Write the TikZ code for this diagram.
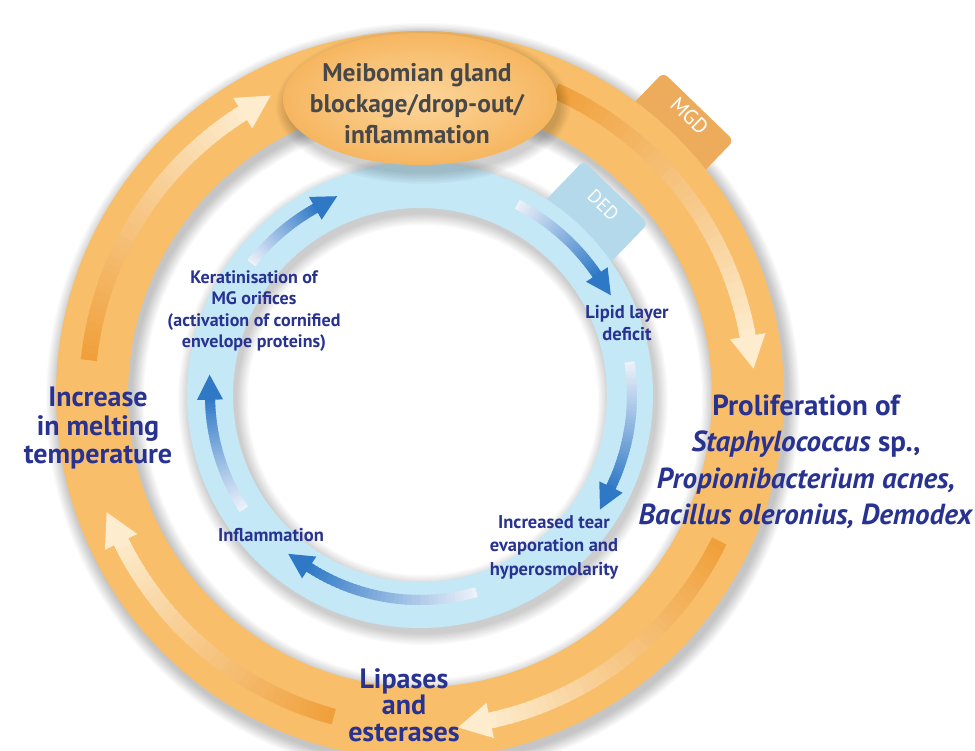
\documentclass[tikz,border=0pt]{standalone}
\usepackage{fontspec}
\setmainfont{PT Sans}
\usetikzlibrary{shapes.geometric}
\definecolor{ringorange}{RGB}{248,190,106}
\definecolor{darkorange}{RGB}{240,160,58}
\definecolor{creamorange}{RGB}{253,236,206}
\definecolor{taborange}{RGB}{236,172,92}
\definecolor{ringblue}{RGB}{196,232,246}
\definecolor{tabblue}{RGB}{180,217,235}
\definecolor{arrowblue}{RGB}{46,120,198}
\definecolor{paleblue}{RGB}{236,241,250}
\definecolor{labelblue}{RGB}{40,50,145}
\definecolor{glandgrey}{RGB}{72,72,72}
\tikzset{
  big label/.style = {text=labelblue, align=center, font=\bfseries\fontsize{28}{28.5}\selectfont},
  small label/.style = {text=labelblue, align=center, font=\bfseries\fontsize{18.5}{22}\selectfont},
  tabtext/.style = {text=white, font=\fontsize{21}{22}\selectfont, inner sep=0pt}
}
% arc with colour running from tail to head, and a head at the end
% #1 radius, #2 from, #3 to, #4 tail colour, #5 head colour, #6 shaft, #7 head width, #8 head length
\newcommand{\flowarc}[8]{%
  \foreach \k in {0,...,39}{%
    \pgfmathsetmacro{\angA}{#2+(#3-(#2))*\k/40}%
    \pgfmathsetmacro{\angB}{#2+(#3-(#2))*(\k+1.6)/40}%
    \pgfmathtruncatemacro{\mix}{100-2.5*\k}%
    \draw[line width=#6, #4!\mix!#5] (\angA:#1) arc[start angle=\angA, end angle=\angB, radius=#1];%
  }%
  \begin{scope}[shift={(#3:#1)}, rotate=#3-90]
    \fill[#5] (-1,#7/2) -- (#8,0) -- (-1,-#7/2) -- cycle;
  \end{scope}%
}

\begin{document}
\begin{tikzpicture}[x=1pt, y=1pt]
  \fill[white] (-420,-355) rectangle (555,395);
  \useasboundingbox (-420,-355) rectangle (555,395);

  % soft shadows
  \foreach \s in {1,...,10}{
    \draw[black, opacity=0.025, line width=72+2.6*\s] (3,-5) circle[radius=328];
    \draw[black, opacity=0.02, line width=46+2.4*\s] (3,-5) circle[radius=210];
  }

  % MGD ring
  \begin{scope}[shift={(46:378)}, rotate=-44]
    \fill[taborange, rounded corners=6] (-49,-23) rectangle (49,23);
  \end{scope}
  \node[tabtext, rotate=-44] (mgd) at (46:388) {MGD};
  \draw[ringorange, line width=72] (0,0) circle[radius=328];
  \flowarc{333}{174}{122}{darkorange}{creamorange}{16}{36}{32}
  \flowarc{333}{66}{10}{darkorange}{creamorange}{16}{36}{32}
  \flowarc{333}{-26}{-78}{darkorange}{creamorange}{16}{36}{32}
  \flowarc{333}{255}{206}{darkorange}{creamorange}{16}{36}{32}

  % DED ring
  \begin{scope}[shift={(46:252)}, rotate=-44]
    \fill[tabblue, rounded corners=6] (-45,-30) rectangle (45,30);
  \end{scope}
  \node[tabtext, rotate=-44, font=\fontsize{19}{20}\selectfont] (ded) at (46:264) {DED};
  \draw[ringblue, line width=46] (0,0) circle[radius=210];
  \flowarc{214}{142}{119}{paleblue}{arrowblue}{10}{26}{24}
  \flowarc{214}{63}{34}{paleblue}{arrowblue}{10}{26}{24}
  \flowarc{212}{9}{-26}{paleblue}{arrowblue}{10}{26}{24}
  \flowarc{205}{-74}{-123}{paleblue}{arrowblue}{10}{26}{24}
  \flowarc{210}{213}{181}{paleblue}{arrowblue}{10}{26}{24}

  % gland
  \foreach \s in {1,...,8}
    \fill[black, opacity=0.025] (3,289) ellipse[x radius=135+1.5*\s, y radius=66+1.5*\s];
  \node[ellipse, minimum width=274pt, minimum height=132pt, inner sep=0pt,
        inner color={rgb,255:red,252;green,214;blue,156}, outer color={rgb,255:red,246;green,182;blue,96}] (gland) at (0,296) {};
  \node[text=glandgrey, align=center, font=\bfseries\fontsize{25.5}{31}\selectfont] (glandtext) at (-3,291)
        {Meibomian gland\\blockage/drop-out/\\inflammation};

  % labels
  \node[big label, font=\bfseries\fontsize{29}{36.5}\selectfont] (prolif) at (386,-67) {Proliferation of\\\textit{Staphylococcus} sp.,\\\textit{Propionibacterium acnes,}\\\textit{Bacillus oleronius, Demodex}};
  \node[big label, font=\bfseries\fontsize{28}{26.5}\selectfont] (lipases) at (-16,-310) {Lipases\\and\\esterases};
  \node[big label] (melting) at (-322,-33) {Increase\\in melting\\temperature};
  \node[small label, font=\bfseries\fontsize{18}{21.5}\selectfont] (keratin) at (-166,84) {Keratinisation of\\MG orifices\\(activation of cornified\\envelope proteins)};
  \node[small label] (lipid) at (207,72) {Lipid layer\\deficit};
  \node[small label, font=\bfseries\fontsize{18.5}{23.5}\selectfont] (tear) at (134,-152) {Increased tear\\evaporation and\\hyperosmolarity};
  \node[small label] (inflam) at (-149,-140) {Inflammation};
\end{tikzpicture}
\end{document}
